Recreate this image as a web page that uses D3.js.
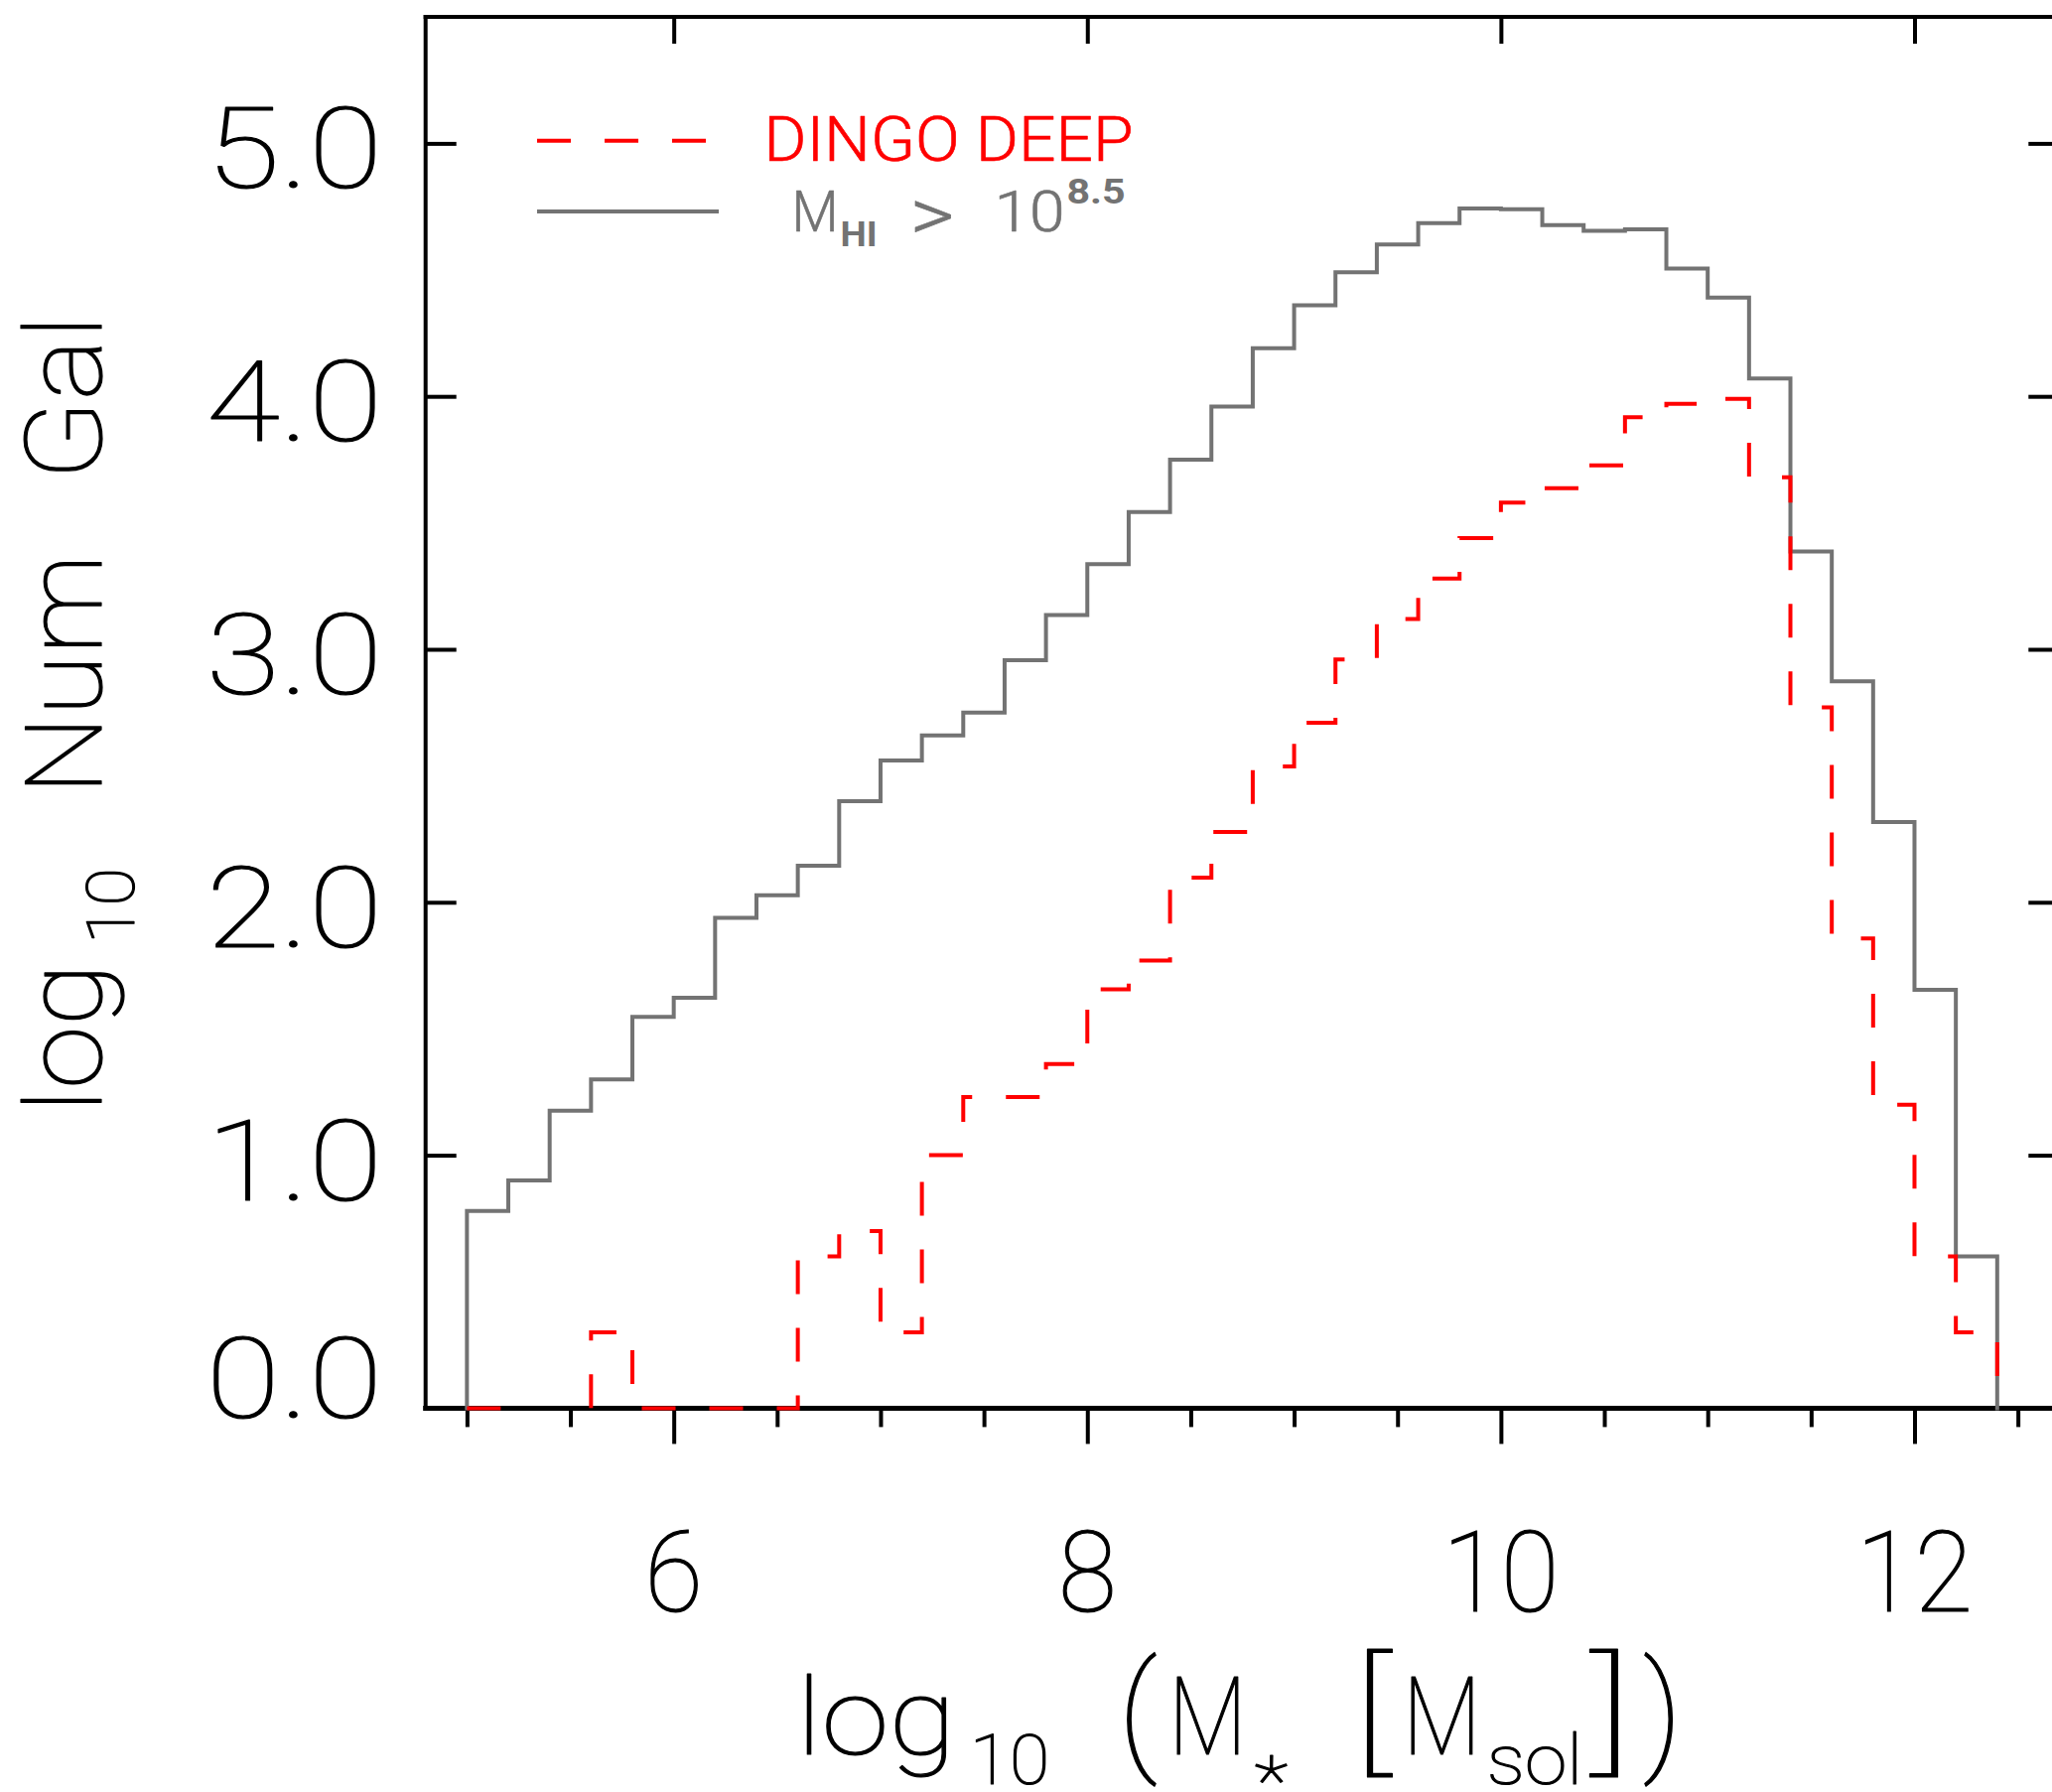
<!DOCTYPE html>
<html>
<head>
<meta charset="utf-8">
<script src="https://cdn.jsdelivr.net/npm/d3@7"></script>
<style>
  html, body { margin: 0; padding: 0; background: #ffffff; }
  svg { display: block; }
</style>
</head>
<body>
<svg id="chart" width="2067" height="1805"></svg>
<script>
// ---------------- DATA ----------------
// left edges of the 0.2-dex stellar-mass bins
const binStart = [5.0, 5.2, 5.4, 5.6, 5.8, 6.0, 6.2, 6.4, 6.6, 6.8,
                  7.0, 7.2, 7.4, 7.6, 7.8, 8.0, 8.2, 8.4, 8.6, 8.8,
                  9.0, 9.2, 9.4, 9.6, 9.8, 10.0, 10.2, 10.4, 10.6, 10.8,
                  11.0, 11.2, 11.4, 11.6, 11.8, 12.0, 12.2];
const binWidth = 0.2;

// log10 Num Gal, M_HI > 10^8.5 (grey solid)
const hiSelected = [0.78, 0.90, 1.176, 1.30, 1.547, 1.622, 1.938, 2.028, 2.144, 2.40,
                    2.56, 2.66, 2.75, 2.957, 3.135, 3.337, 3.543, 3.75, 3.96, 4.19,
                    4.36, 4.49, 4.60, 4.685, 4.743, 4.74, 4.677, 4.654, 4.66, 4.505,
                    4.39, 4.07, 3.387, 2.873, 2.317, 1.654, 0.60];

// log10 Num Gal, DINGO DEEP (red dashed); null = empty bin (log10 0)
const dingoDeep = [0, null, null, 0.30, 0, 0, 0, 0, 0.60, 0.70,
                   0.30, 1.00, 1.23, 1.23, 1.36, 1.656, 1.77, 2.097, 2.278, 2.537,
                   2.71, 2.96, 3.12, 3.28, 3.44, 3.58, 3.637, 3.727, 3.917, 3.97,
                   3.99, 3.68, 2.77, 1.857, 1.20, 0.60, 0.30];

const xMajorTicks = [6, 8, 10, 12];
const xMinorTicks = [5.0, 5.5, 6.5, 7.0, 7.5, 8.5, 9.0, 9.5, 10.5, 11.0, 11.5, 12.5];
const xTickLabels = ["6", "8", "10", "12"];
const yTicks = [0, 1, 2, 3, 4, 5];
const yTickLabels = ["0.0", "1.0", "2.0", "3.0", "4.0", "5.0"];

const seriesNames = ["DINGO DEEP", "M_HI > 10^8.5"];

// ---------------- STYLE ----------------
const FONT = "Roboto, 'Liberation Sans', Arial, sans-serif";
const THIN = 100;
const GREY = "#737373";
const RED = "#ff0000";
const EMPTY_FLOOR = -0.155;   // empty bins drawn below the axis (clipped)

const svg = d3.select("#chart");
svg.append("rect").attr("width", 2067).attr("height", 1805).attr("fill", "#fff");

const x = d3.scaleLinear().domain([4.8, 12.7]).range([428.7, 2074.3]);
const y = d3.scaleLinear().domain([0, 5.5]).range([1418.4, 17]);

const pLeft = x.range()[0], pRight = x.range()[1];
const pTop = y.range()[1], pBottom = y.range()[0];

// ---------------- AXES ----------------
function styleAxis(g, w) {
  g.select(".domain").remove();
  g.selectAll(".tick line").attr("stroke", "#000").attr("stroke-width", w);
  g.selectAll(".tick text").remove();
}
svg.append("g").attr("transform", `translate(0,${pBottom})`)
  .call(d3.axisBottom(x).tickValues(xMajorTicks).tickSize(36).tickFormat(""))
  .call(g => styleAxis(g, 4));
svg.append("g").attr("transform", `translate(0,${pBottom})`)
  .call(d3.axisBottom(x).tickValues(xMinorTicks).tickSize(19).tickFormat(""))
  .call(g => styleAxis(g, 4));
svg.append("g").attr("transform", `translate(0,${pTop})`)
  .call(d3.axisBottom(x).tickValues(xMajorTicks).tickSize(27).tickFormat(""))
  .call(g => styleAxis(g, 4));
svg.append("g").attr("transform", `translate(${pLeft},0)`)
  .call(d3.axisRight(y).tickValues(yTicks).tickSize(31).tickFormat(""))
  .call(g => styleAxis(g, 4));
svg.append("g").attr("transform", `translate(${pRight},0)`)
  .call(d3.axisLeft(y).tickValues(yTicks).tickSize(31).tickFormat(""))
  .call(g => styleAxis(g, 4));

const frame = svg.append("g").attr("stroke", "#000").attr("stroke-linecap", "square");
frame.append("line").attr("x1", pLeft).attr("x2", pRight).attr("y1", pTop).attr("y2", pTop).attr("stroke-width", 4);
frame.append("line").attr("x1", pLeft).attr("x2", pRight).attr("y1", pBottom).attr("y2", pBottom).attr("stroke-width", 5);
frame.append("line").attr("x1", pLeft).attr("x2", pLeft).attr("y1", pTop).attr("y2", pBottom).attr("stroke-width", 4);
frame.append("line").attr("x1", pRight).attr("x2", pRight).attr("y1", pTop).attr("y2", pBottom).attr("stroke-width", 4);

// ---------------- HISTOGRAMS ----------------
svg.append("clipPath").attr("id", "plotclip")
  .append("rect").attr("x", pLeft).attr("y", pTop)
  .attr("width", pRight - pLeft).attr("height", pBottom - pTop + 2.5);

function stepPoints(vals) {
  const pts = [[binStart[0], 0]];
  vals.forEach((v, i) => {
    const vv = (v === null) ? EMPTY_FLOOR : v;
    pts.push([binStart[i], vv]);
    pts.push([binStart[i] + binWidth, vv]);
  });
  pts.push([binStart[binStart.length - 1] + binWidth, 0]);
  return pts;
}
const line = d3.line().x(d => x(d[0])).y(d => y(d[1]));

const plot = svg.append("g").attr("clip-path", "url(#plotclip)");
plot.append("path").attr("d", line(stepPoints(hiSelected)))
  .attr("fill", "none").attr("stroke", GREY).attr("stroke-width", 4)
  .attr("stroke-linejoin", "miter").attr("stroke-linecap", "square");
plot.append("path").attr("d", line(stepPoints(dingoDeep)))
  .attr("fill", "none").attr("stroke", RED).attr("stroke-width", 4)
  .attr("stroke-dasharray", "34 34").attr("stroke-linejoin", "miter");

// ---------------- TEXT HELPERS ----------------
// place a text so its horizontal extent maps onto [x0,x1] (ink-ish, small padding)
function fitText(str, o) {
  const col = o.fill || "#000";
  const t = svg.append("text").text(str)
    .attr("font-family", FONT).attr("font-size", o.size)
    .attr("font-weight", o.weight || THIN)
    .attr("fill", col)
    .attr("stroke", col).attr("stroke-width", o.sw === undefined ? 1.2 : o.sw)
    .attr("stroke-linejoin", "round");
  const bb = t.node().getBBox();
  const pad = 0.045 * o.size;
  if (!o.rotate) {
    const s = ((o.x1 - o.x0) + 2 * pad) / bb.width;
    t.attr("transform", `translate(${o.x0 - pad},${o.base}) scale(${s},1) translate(${-bb.x},0)`);
  } else {
    const s = ((o.x0 - o.x1) + 2 * pad) / bb.width;
    t.attr("transform", `translate(${o.base},${o.x0 + pad}) rotate(-90) scale(${s},1) translate(${-bb.x},0)`);
  }
  return t;
}

// x tick labels
xMajorTicks.forEach((v, i) => {
  svg.append("text").text(xTickLabels[i])
    .attr("font-family", FONT).attr("font-size", 113).attr("font-weight", THIN)
    .attr("fill", "#000").attr("stroke", "#000").attr("stroke-width", 1.2)
    .attr("text-anchor", "middle")
    .attr("transform", `translate(${x(v)},1623) scale(0.95,1)`);
});

// y tick labels
yTicks.forEach((v, i) => {
  const base = Math.min(y(v) + 45, pBottom + 10);
  fitText(yTickLabels[i], { x0: 213, x1: 380, base: base, size: 114 });
});

// x axis title: log10 (M* [Msol])
fitText("log", { x0: 807, x1: 958, base: 1767, size: 108 });
fitText("10",  { x0: 980, x1: 1054, base: 1797, size: 70 });
fitText("(",   { x0: 1132, x1: 1160, base: 1769, size: 132 });
fitText("M",   { x0: 1182, x1: 1251, base: 1767, size: 110 });
fitText("*",   { x0: 1267, x1: 1294, base: 1818, size: 70 });
fitText("[",   { x0: 1368, x1: 1397, base: 1770, size: 134 });
fitText("M",   { x0: 1418, x1: 1487, base: 1767, size: 110 });
fitText("sol", { x0: 1501, x1: 1591, base: 1797, size: 70 });
fitText("]",   { x0: 1607, x1: 1639, base: 1770, size: 134 });
fitText(")",   { x0: 1661, x1: 1689, base: 1769, size: 132 });

// y axis title: log10 Num Gal (rotated)
fitText("log", { x0: 1116, x1: 975, base: 102, size: 107, rotate: true });
fitText("10",  { x0: 948, x1: 877, base: 135, size: 67, rotate: true });
fitText("Num", { x0: 796, x1: 563, base: 102, size: 107, rotate: true });
fitText("Gal", { x0: 479, x1: 322, base: 102, size: 107, rotate: true });

// ---------------- LEGEND ----------------
svg.append("line").attr("x1", 541).attr("x2", 711).attr("y1", 141.7).attr("y2", 141.7)
  .attr("stroke", RED).attr("stroke-width", 4).attr("stroke-dasharray", "34 34");
svg.append("line").attr("x1", 541).attr("x2", 724).attr("y1", 213).attr("y2", 213)
  .attr("stroke", GREY).attr("stroke-width", 4);

fitText(seriesNames[0], { x0: 772, x1: 1139, base: 162, size: 62, fill: RED, weight: 300, sw: 0.6 });
fitText("M",   { x0: 800, x1: 842, base: 233, size: 57, fill: GREY, weight: 300, sw: 0.6 });
fitText("HI",  { x0: 848, x1: 882, base: 248, size: 35, fill: GREY, weight: "bold", sw: 0 });
fitText(">",   { x0: 920, x1: 958, base: 242, size: 75, fill: GREY, weight: 300, sw: 0.6 });
fitText("10",  { x0: 1004, x1: 1070, base: 233, size: 57, fill: GREY, weight: 300, sw: 0.6 });
fitText("8.5", { x0: 1076, x1: 1132, base: 205, size: 35, fill: GREY, weight: "bold", sw: 0 });
</script>
</body>
</html>
